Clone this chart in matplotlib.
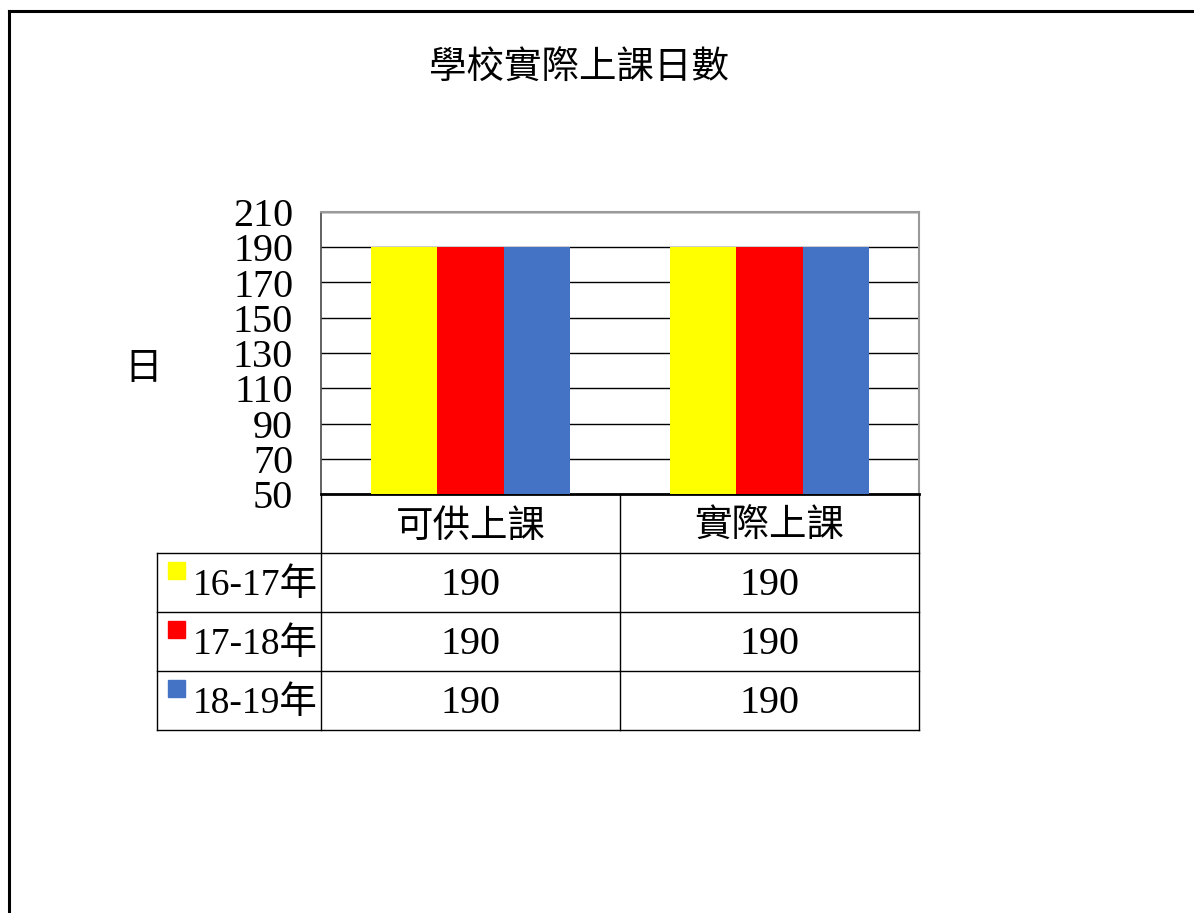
import matplotlib
matplotlib.use("Agg")
import matplotlib.pyplot as plt
from matplotlib.patches import Rectangle
from matplotlib.lines import Line2D
from matplotlib.transforms import offset_copy

title = "學校實際上課日數"
categories = ["可供上課", "實際上課"]
series_names = ["16-17年", "17-18年", "18-19年"]
series_values = [
    [190, 190],
    [190, 190],
    [190, 190],
]
series_colors = ["#FFFF00", "#FF0000", "#4472C4"]
yticks = [50, 70, 90, 110, 130, 150, 170, 190, 210]
ylabel = "日"

FAM = ["Liberation Serif", "Noto Sans CJK TC"]
plt.rcParams["font.family"] = FAM

W, H = 1194, 913
fig = plt.figure(figsize=(W / 100, H / 100), dpi=100)

# outer border
fig.add_artist(Line2D([9 / W, 9 / W], [0, 1 - 11 / H], transform=fig.transFigure, color="black", lw=2.2))
fig.add_artist(Line2D([9 / W, 1], [1 - 11 / H, 1 - 11 / H], transform=fig.transFigure, color="black", lw=2.2))

L, R, T, B = 321, 919, 212, 494
ax = fig.add_axes([L / W, 1 - B / H, (R - L) / W, (B - T) / H])

n = len(series_names)
bw = 1 / 4.5
for i, (name, vals, col) in enumerate(zip(series_names, series_values, series_colors)):
    xs = [c + (i - (n - 1) / 2) * bw for c in range(len(categories))]
    ax.bar(xs, vals, width=bw, color=col, zorder=3, bottom=0)

ax.set_xlim(-0.5, len(categories) - 0.5)
ax.set_ylim(yticks[0], yticks[-1])
ax.set_yticks(yticks)
ax.set_yticklabels([str(v) for v in yticks], fontsize=29)
ax.tick_params(axis="y", length=0, pad=20)
ax.set_xticks([])
ax.yaxis.grid(True, color="black", lw=1.0, zorder=1)
ax.set_axisbelow(True)
for s in ["top", "right"]:
    ax.spines[s].set_color("#999999")
    ax.spines[s].set_linewidth(1.5)
ax.spines["left"].set_color("#555555")
ax.spines["left"].set_linewidth(1.3)
ax.spines["bottom"].set_color("black")
ax.spines["bottom"].set_linewidth(2)

fig.text(579 / W, 1 - 69 / H, title, ha="center", va="center", fontsize=27)
fig.text(143 / W, 1 - 370 / H, ylabel, ha="center", va="center", fontsize=27)

# data table below the chart
ph = B - T
rowh = 59 / ph
tr = ax.get_xaxis_transform()  # x data, y axes
tr_down = offset_copy(tr, fig=fig, y=-3, units="dots")
ta_down = offset_copy(ax.transAxes, fig=fig, y=-3, units="dots")
lx = (157 - L) / (R - L)
lkw = dict(color="black", lw=1.0, clip_on=False)
nrows = len(series_names)
bottom_y = -rowh * (nrows + 1)
for e in range(len(categories) + 1):
    x = e - 0.5
    ax.add_line(Line2D([x, x], [0, bottom_y], transform=tr, **lkw))
for c, cat in enumerate(categories):
    ax.text(c, -rowh / 2, cat, transform=offset_copy(tr, fig=fig, y=-4, units="dots"),
            ha="center", va="center", fontsize=27)
for r in range(nrows + 1):
    y = -rowh * (r + 1)
    ax.add_line(Line2D([lx, 1], [y, y], transform=ax.transAxes, **lkw))
ax.add_line(Line2D([lx, lx], [-rowh, bottom_y], transform=ax.transAxes, **lkw))
for r, (name, vals, col) in enumerate(zip(series_names, series_values, series_colors)):
    yc = -rowh * (r + 1.5)
    kx = (168 - L) / (R - L)
    ks = 17 / (R - L)
    kh = 17 / ph
    ax.add_patch(Rectangle((kx, yc + 0.2 * rowh - kh / 2), ks, kh, transform=ax.transAxes,
                           color=col, clip_on=False))
    ax.text((193 - L) / (R - L), yc, name, transform=ta_down, ha="left", va="center", fontsize=27)
    for c, v in enumerate(vals):
        ax.text(c, yc, str(v), transform=tr_down, ha="center", va="center", fontsize=29)

fig.savefig("out.png", dpi=100)
